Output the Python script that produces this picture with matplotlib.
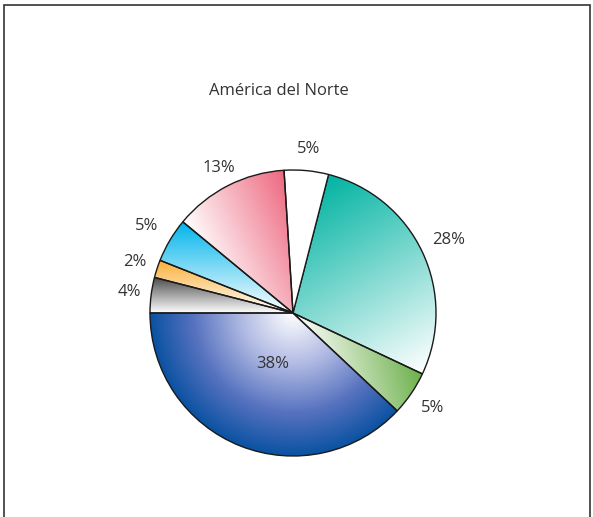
import numpy as np
import matplotlib
matplotlib.use("Agg")
import matplotlib.pyplot as plt
from matplotlib.colors import to_rgb, LinearSegmentedColormap
from matplotlib.patches import Rectangle

# shares in percent, counter-clockwise from the left horizontal
values = [38, 5, 28, 5, 13, 5, 2, 4]
labels = ["38%", "5%", "28%", "5%", "13%", "5%", "2%", "4%"]
colors = ["#0a52a2", "#6cb04a", "#00b3a2", "#ffffff", "#ee6880", "#00b5ec", "#fbb03a", "#4d4d4d"]
# gradient direction (degrees, pointing toward full colour); None = radial
grad_dir = [None, 15, 120, None, 25, 90, 90, 90]
label_dist = [0.38, 1.18, 1.2, 1.15, 1.14, 1.19, 1.16, 1.15]
title = "América del Norte"

W, H = 593, 517
CX, CY, R = 293, 313, 143
LIM = 1.4

plt.rcParams["font.family"] = ["Open Sans", "DejaVu Sans"]

fig = plt.figure(figsize=(W / 100, H / 100), dpi=100)
half = LIM * R
ax = fig.add_axes([(CX - half) / W, (H - CY - half) / H, 2 * half / W, 2 * half / H])

wedges, _ = ax.pie(values, startangle=180, counterclock=True,
                   colors=["none"] * len(values),
                   wedgeprops=dict(edgecolor="#1a1a1a", linewidth=1.0, zorder=3))
ax.set_xlim(-LIM, LIM)
ax.set_ylim(-LIM, LIM)
ax.set_aspect("equal")
ax.axis("off")

n = 600
gx, gy = np.meshgrid(np.linspace(-1.02, 1.02, n), np.linspace(-1.02, 1.02, n))
white = np.ones(3)

# the big blue slice fades through a lavender tone
blue_cmap = LinearSegmentedColormap.from_list(
    "blue_fade", [(0, "#ffffff"), (0.35, "#b3bce4"), (0.7, "#5672bf"), (1, colors[0])])

for w, col, d in zip(wedges, colors, grad_dir):
    c = np.array(to_rgb(col))
    if col == "#ffffff":
        w.set_facecolor("white")
        continue
    if d is None:
        t = np.clip(np.hypot(gx, gy), 0, 1)
        img = blue_cmap(t)[..., :3]
    else:
        a = np.deg2rad(d)
        proj = gx * np.cos(a) + gy * np.sin(a)
        verts = w.get_path().vertices
        pv = verts[:, 0] * np.cos(a) + verts[:, 1] * np.sin(a)
        t = np.clip((proj - pv.min()) / (pv.max() - pv.min()), 0, 1)
        img = white[None, None, :] * (1 - t[..., None]) + c[None, None, :] * t[..., None]
    im = ax.imshow(img, extent=(-1.02, 1.02, -1.02, 1.02), origin="lower",
                   interpolation="bilinear", zorder=2)
    im.set_clip_path(w)

for w, lab, dist in zip(wedges, labels, label_dist):
    mid = np.deg2rad((w.theta1 + w.theta2) / 2)
    ax.text(dist * np.cos(mid), dist * np.sin(mid), lab, ha="center", va="center",
            fontsize=12, color="#333333", zorder=4)

fig.text(279 / W, 1 - 91 / H, title, ha="center", va="center", fontsize=12, color="#333333")

fig.patches.append(Rectangle((3.5 / W, -0.1), (590 - 3.5) / W, 1.1 - 4.5 / H,
                             transform=fig.transFigure, fill=False,
                             edgecolor="#333333", linewidth=1.2))

fig.savefig("out.png", dpi=100)
